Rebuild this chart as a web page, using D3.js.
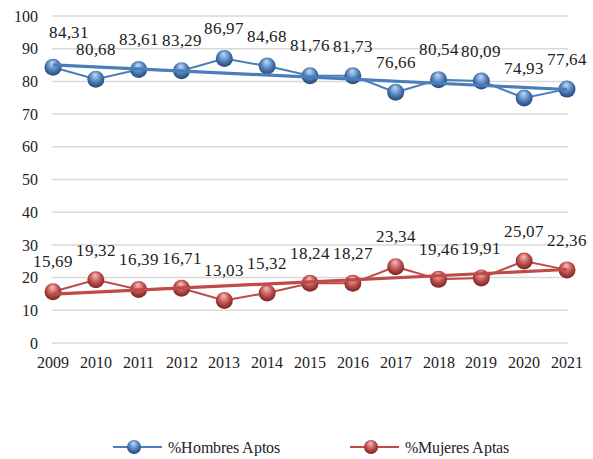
<!DOCTYPE html>
<html>
<head>
<meta charset="utf-8">
<script src="https://cdnjs.cloudflare.com/ajax/libs/d3/7.8.5/d3.min.js"></script>
<style>
@font-face { font-family: "ChartSerif"; src: local("Liberation Serif"), local("LiberationSerif-Regular"), local("Times New Roman"); }
body { margin: 0; background: #fff; }
svg text { font-family: "ChartSerif", "Liberation Serif", serif; fill: #222; }
</style>
</head>
<body>
<div id="main_div"></div>
<script>
var years = [2009, 2010, 2011, 2012, 2013, 2014, 2015, 2016, 2017, 2018, 2019, 2020, 2021];
var hombres = [84.31, 80.68, 83.61, 83.29, 86.97, 84.68, 81.76, 81.73, 76.66, 80.54, 80.09, 74.93, 77.64];
var mujeres = [15.69, 19.32, 16.39, 16.71, 13.03, 15.32, 18.24, 18.27, 23.34, 19.46, 19.91, 25.07, 22.36];
var y_ticks = [0, 10, 20, 30, 40, 50, 60, 70, 80, 90, 100];
var series_names = ["%Hombres Aptos", "%Mujeres Aptas"];

var W = 593, H = 459;
var x_scale = d3.scalePoint().domain(years).range([53, 567]);
var y_scale = d3.scaleLinear().domain([0, 100]).range([343, 16]);

var svg = d3.select("#main_div").append("svg").attr("width", W).attr("height", H);

// gradients for the sphere markers
var defs = svg.append("defs");
function sphere(id, light, mid, dark) {
    var g = defs.append("radialGradient").attr("id", id)
        .attr("cx", "50%").attr("cy", "45%").attr("r", "60%")
        .attr("fx", "45%").attr("fy", "22%");
    g.append("stop").attr("offset", "0%").attr("stop-color", light);
    g.append("stop").attr("offset", "55%").attr("stop-color", mid);
    g.append("stop").attr("offset", "100%").attr("stop-color", dark);
}
sphere("blue_ball", "#c6dbf5", "#4f81bd", "#1f3d66");
sphere("red_ball", "#f4c2c0", "#c0504d", "#6b1d1b");

// grid
svg.append("g").selectAll("line").data(y_ticks).enter().append("line")
    .attr("x1", 52).attr("x2", 568)
    .attr("y1", function(d) { return y_scale(d); })
    .attr("y2", function(d) { return y_scale(d); })
    .attr("stroke", "#d9d9d9").attr("stroke-width", 1.5);

svg.append("g").selectAll("text").data(y_ticks).enter().append("text")
    .attr("x", 38).attr("y", function(d) { return y_scale(d); })
    .attr("dy", "0.35em").attr("text-anchor", "end")
    .style("font-size", "16px")
    .text(function(d) { return d; });

svg.append("g").selectAll("text").data(years).enter().append("text")
    .attr("x", function(d) { return x_scale(d); }).attr("y", 368)
    .attr("text-anchor", "middle")
    .style("font-size", "16px")
    .text(function(d) { return d; });

function trend(vals) {
    var n = vals.length, mx = (n - 1) / 2, my = d3.mean(vals);
    var sxy = 0, sxx = 0;
    vals.forEach(function(v, i) { sxy += (i - mx) * (v - my); sxx += (i - mx) * (i - mx); });
    var b = sxy / sxx, a = my - b * mx;
    return [a, a + b * (n - 1)];
}

function draw_series(vals, color, ball, nudge_first) {
    var pts = vals.map(function(v, i) { return [years[i], v]; });
    var line = d3.line()
        .x(function(d) { return x_scale(d[0]); })
        .y(function(d) { return y_scale(d[1]); });
    svg.append("path").datum(pts).attr("d", line)
        .attr("fill", "none").attr("stroke", color).attr("stroke-width", 2);
    svg.append("g").selectAll("circle").data(pts).enter().append("circle")
        .attr("cx", function(d) { return x_scale(d[0]); })
        .attr("cy", function(d) { return y_scale(d[1]); })
        .attr("r", 8.5)
        .attr("fill", "url(#" + ball + ")");
    var t = trend(vals);
    svg.append("line")
        .attr("x1", x_scale(years[0])).attr("y1", y_scale(t[0]))
        .attr("x2", x_scale(years[years.length - 1])).attr("y2", y_scale(t[1]))
        .attr("stroke", color).attr("stroke-width", 3.2);
    svg.append("g").selectAll("text").data(pts).enter().append("text")
        .attr("x", function(d, i) {
            // first label pushed right so it clears the value axis labels
            return (i == 0 && nudge_first) ? x_scale(d[0]) + 16 : x_scale(d[0]);
        })
        .attr("y", function(d, i) { return y_scale(d[1]) - ((i == 0 && nudge_first) ? 35 : 30); })
        .attr("dy", "0.35em").attr("text-anchor", "middle")
        .style("font-size", "16.5px")
        .text(function(d) { return d[1].toFixed(2).replace(".", ","); });
}

draw_series(hombres, "#4a7ebb", "blue_ball", true);
draw_series(mujeres, "#be4b48", "red_ball", false);

// legend
var legend = [[113, "#4a7ebb", "blue_ball"], [350, "#be4b48", "red_ball"]];
legend.forEach(function(l, i) {
    var g = svg.append("g").attr("transform", "translate(" + l[0] + ",447)");
    g.append("line").attr("x1", 0).attr("x2", 49).attr("stroke", l[1]).attr("stroke-width", 2);
    g.append("circle").attr("cx", 21).attr("r", 7).attr("fill", "url(#" + l[2] + ")");
    g.append("text").attr("x", 55).attr("dy", "0.35em").style("font-size", "16px").text(series_names[i]);
});
</script>
</body>
</html>
